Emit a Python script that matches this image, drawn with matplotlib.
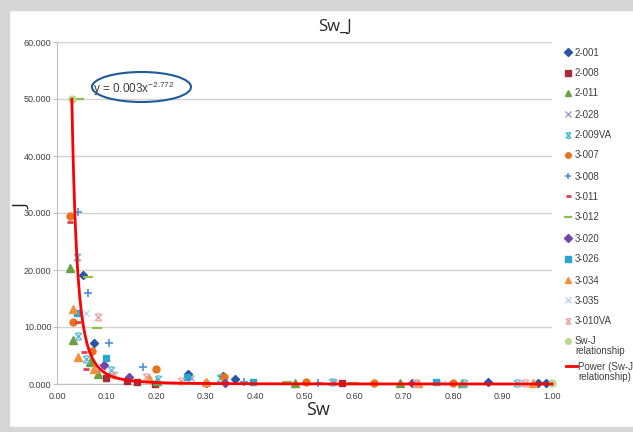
import numpy as np
import matplotlib
matplotlib.use("Agg")
import matplotlib.pyplot as plt
from matplotlib.lines import Line2D
from matplotlib.patches import Ellipse, Rectangle
from matplotlib.path import Path

# ---- data: (Sw, J) per well sample ----
sw_2_001 = [0.053, 0.075, 0.265, 0.335, 0.360, 0.870, 0.972, 0.988]
j_2_001 = [19.1, 7.2, 1.7, 1.4, 0.8, 0.3, 0.2, 0.2]

sw_2_008 = [0.098, 0.141, 0.162, 0.197, 0.575]
j_2_008 = [1.0, 0.5, 0.4, 0.05, 0.15]

sw_2_011 = [0.026, 0.033, 0.067, 0.082, 0.203, 0.480, 0.693, 0.818]
j_2_011 = [20.3, 7.7, 3.9, 1.7, 0.6, 0.15, 0.2, 0.2]

sw_2_028 = [0.090, 0.270, 0.560, 0.720]
j_2_028 = [2.9, 1.0, 0.3, 0.2]

sw_2_009va = [0.040, 0.043, 0.058, 0.110, 0.205, 0.330, 0.556, 0.823, 0.930]
j_2_009va = [22.2, 8.5, 4.4, 2.5, 0.9, 1.0, 0.4, 0.2, 0.2]

sw_3_007 = [0.026, 0.033, 0.070, 0.201, 0.337, 0.503, 0.641, 0.800]
j_3_007 = [29.4, 10.9, 5.8, 2.6, 1.2, 0.3, 0.1, 0.1]

sw_3_008 = [0.043, 0.063, 0.105, 0.173, 0.377, 0.528]
j_3_008 = [30.2, 16.0, 7.2, 3.0, 0.4, 0.2]

sw_3_011 = [0.026, 0.043, 0.055, 0.058, 0.602]
j_3_011 = [28.5, 10.8, 5.7, 2.6, 0.2]

sw_3_012 = [0.045, 0.063, 0.080, 0.464, 0.598]
j_3_012 = [50.0, 18.8, 9.9, 0.3, 0.25]

sw_3_020 = [0.094, 0.145, 0.300, 0.340, 0.718]
j_3_020 = [3.3, 1.3, 0.2, 0.1, 0.2]

sw_3_026 = [0.040, 0.099, 0.262, 0.395, 0.766]
j_3_026 = [12.4, 4.6, 1.3, 0.4, 0.3]

sw_3_034 = [0.033, 0.042, 0.075, 0.185, 0.300, 0.730, 0.962]
j_3_034 = [13.2, 4.8, 2.6, 1.0, 0.3, 0.2, 0.2]

sw_3_035 = [0.059, 0.780, 0.935]
j_3_035 = [12.4, 0.2, 0.2]

sw_3_010va = [0.083, 0.116, 0.180, 0.250, 0.725, 0.945]
j_3_010va = [11.7, 1.6, 1.2, 0.5, 0.2, 0.2]

sw_rel = [0.030, 1.000]
j_rel = [50.0, 0.1]

# power trendline fitted to the Sw-J relationship: J = a * Sw^b
fit_a = 0.003
fit_b = -2.772

x_ticks = [0.0, 0.1, 0.2, 0.3, 0.4, 0.5, 0.6, 0.7, 0.8, 0.9, 1.0]
y_ticks = [0, 10, 20, 30, 40, 50, 60]

W, H = 633, 432
plt.rcParams["font.family"] = ["Liberation Sans", "DejaVu Sans"]
plt.rcParams["mathtext.default"] = "regular"

fig = plt.figure(figsize=(W / 100, H / 100), dpi=100)
fig.patch.set_facecolor("white")


def fx(px):
    return px / W


def fy(py):
    return 1 - py / H


# light grey frame around the chart area
frame_col = "#d6d6d6"
fig.add_artist(Rectangle((0, fy(10)), 1, 10 / H, transform=fig.transFigure,
                         color=frame_col, zorder=0))
fig.add_artist(Rectangle((0, 0), fx(9), 1, transform=fig.transFigure,
                         color=frame_col, zorder=0))
fig.add_artist(Rectangle((0, 0), 1, 5 / H, transform=fig.transFigure,
                         color=frame_col, zorder=0))

ax = fig.add_axes([fx(57), fy(384), (552 - 57) / W, (384 - 42) / H])
ax.set_xlim(0, 1.0)
ax.set_ylim(0, 60)
ax.set_xticks(x_ticks)
ax.set_yticks(y_ticks)
ax.set_xticklabels([f"{v:.2f}" for v in x_ticks])
ax.set_yticklabels([f"{v:.3f}" for v in y_ticks])
for s in ("top", "right"):
    ax.spines[s].set_visible(False)
ax.spines["left"].set_color("#bfbfbf")
ax.spines["bottom"].set_color("#bfbfbf")
ax.yaxis.grid(True, color="#d3d3d3", lw=1.0)
ax.set_axisbelow(True)
ax.tick_params(axis="y", length=3, color="#bfbfbf", labelsize=6.5,
               labelcolor="#404040", pad=1)
ax.tick_params(axis="x", length=0, labelsize=6.5, labelcolor="#404040", pad=6)

# X-with-caps marker
star_path = Path(
    [(-1, -1), (1, 1), (-1, 1), (1, -1), (-0.6, 1), (0.6, 1), (-0.6, -1), (0.6, -1)],
    [Path.MOVETO, Path.LINETO, Path.MOVETO, Path.LINETO,
     Path.MOVETO, Path.LINETO, Path.MOVETO, Path.LINETO])

series = [
    ("2-001", sw_2_001, j_2_001, dict(marker="D", color="#2756a6", ms=4.5)),
    ("2-008", sw_2_008, j_2_008, dict(marker="s", color="#a52d33", ms=5)),
    ("2-011", sw_2_011, j_2_011, dict(marker="^", color="#6aa042", ms=5.5)),
    ("2-028", sw_2_028, j_2_028, dict(marker="x", color="#a596cf", ms=5, mew=1.0)),
    ("2-009VA", sw_2_009va, j_2_009va, dict(marker=star_path, color="#56bcd8", ms=5,
                                            mew=1.0, mfc="none")),
    ("3-007", sw_3_007, j_3_007, dict(marker="o", color="#e8731f", ms=5)),
    ("3-008", sw_3_008, j_3_008, dict(marker="+", color="#4f8fd6", ms=6, mew=1.2)),
    ("3-011", sw_3_011, j_3_011, dict(marker="_", color="#d9414b", ms=4.5, mew=2)),
    ("3-012", sw_3_012, j_3_012, dict(marker="_", color="#8cc04a", ms=7, mew=1.6)),
    ("3-020", sw_3_020, j_3_020, dict(marker="D", color="#7446a8", ms=4.5)),
    ("3-026", sw_3_026, j_3_026, dict(marker="s", color="#2aa6cf", ms=5)),
    ("3-034", sw_3_034, j_3_034, dict(marker="^", color="#f5913a", ms=5.5)),
    ("3-035", sw_3_035, j_3_035, dict(marker="x", color="#c0d4ec", ms=5, mew=1.0)),
    ("3-010VA", sw_3_010va, j_3_010va, dict(marker=star_path, color="#eba4a4", ms=5,
                                            mew=1.0, mfc="none")),
    ("Sw-J\nrelationship", sw_rel, j_rel, dict(marker="o", color="#b7d98b", ms=5)),
]

for name, xs, ys, st in series:
    st = dict(st)
    col = st.pop("color")
    ax.plot(xs, ys, ls="none", color=col, mec=col,
            mfc=st.pop("mfc", col), zorder=3, clip_on=False, **st)

sw_fit = np.linspace(min(sw_rel), max(sw_rel), 500)
ax.plot(sw_fit, fit_a * sw_fit ** fit_b, color="#ff0000", lw=2.0, zorder=4,
        clip_on=False)

# trendline equation with highlight ellipse
fig.text(fx(93), fy(89), "y = 0.003x$^{-2.772}$", fontsize=8.5, color="#404040",
         ha="left", va="center")
fig.add_artist(Ellipse((fx(141.5), fy(87)), 99 / W, 30 / H, transform=fig.transFigure,
                       fill=False, edgecolor="#1f5b99", lw=1.5))

# titles
fig.text(fx(335), fy(27), "Sw_J", fontsize=12, ha="center", va="center",
         family=["Open Sans", "DejaVu Sans"], color="#262626")
fig.text(fx(318), fy(410), "Sw", fontsize=13, ha="center", va="center",
         family=["Open Sans", "DejaVu Sans"], color="#262626")
fig.text(fx(22), fy(207), "J", fontsize=13, ha="center", va="center", rotation=90,
         family=["Open Sans", "DejaVu Sans"], color="#262626")


def legend_label(px, py, label):
    for k, line in enumerate(label.split("\n")):
        fig.text(fx(px), fy(py + 3.5 + 10 * k), line, fontsize=7, color="#404040",
                 ha="left", va="baseline")


# legend
leg_y = [52, 73, 93, 114, 135, 155, 176, 196, 217, 238, 259, 280, 300, 321, 341]
for (name, xs, ys, st), py in zip(series, leg_y):
    st = dict(st)
    col = st.pop("color")
    st["ms"] = st["ms"] * 0.8
    fig.add_artist(Line2D([fx(568)], [fy(py)], transform=fig.transFigure, ls="none",
                          color=col, mec=col, mfc=st.pop("mfc", col), **st))
    legend_label(575, py, name)
fig.add_artist(Line2D([fx(566), fx(577)], [fy(366), fy(366)], transform=fig.transFigure,
                      color="#ff0000", lw=2))
legend_label(578, 366, "Power (Sw-J\nrelationship)")

fig.savefig("out.png", dpi=100, facecolor="white")
